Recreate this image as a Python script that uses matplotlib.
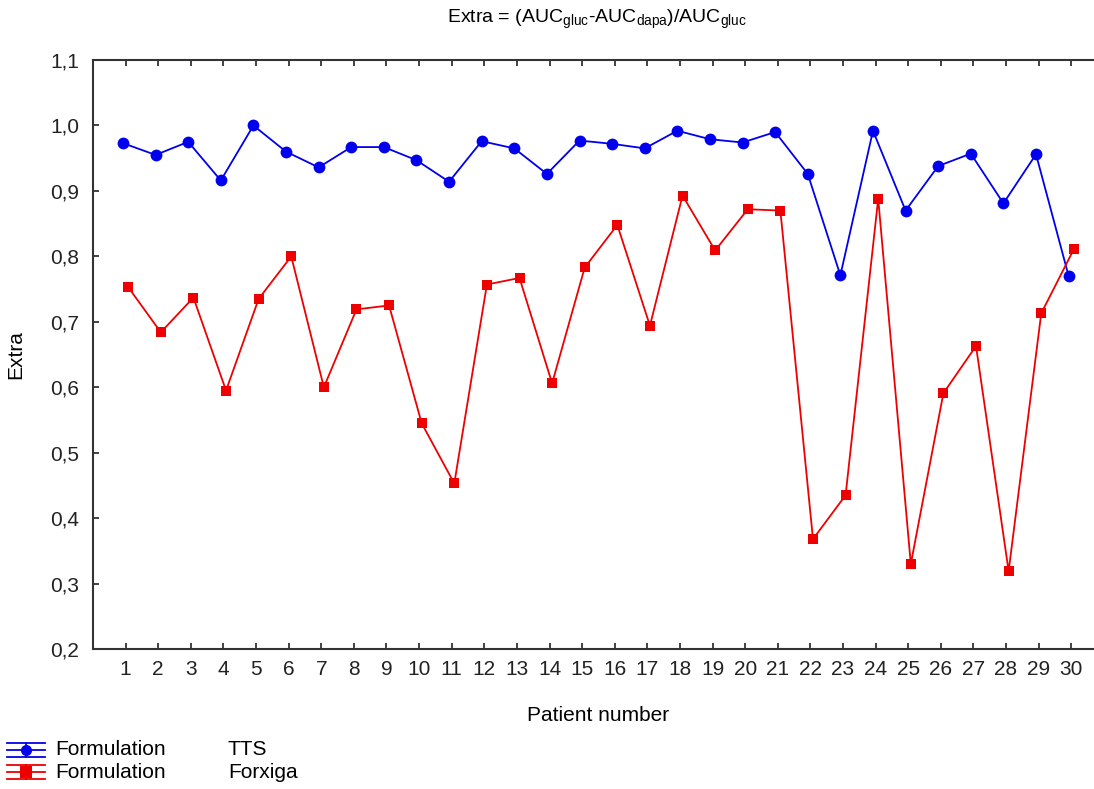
import matplotlib

matplotlib.use("Agg")
import matplotlib.pyplot as plt
import numpy as np
from matplotlib.lines import Line2D
from matplotlib.ticker import FuncFormatter, MultipleLocator

plt.rcParams["font.family"] = ["Liberation Sans", "DejaVu Sans"]
plt.rcParams["mathtext.fontset"] = "custom"
plt.rcParams["mathtext.rm"] = "Liberation Sans"

patients = np.arange(1, 31)

# Extra = (AUC_gluc - AUC_dapa) / AUC_gluc
tts = [0.973, 0.955, 0.975, 0.916, 1.000, 0.960, 0.936, 0.967, 0.967, 0.947,
       0.914, 0.976, 0.965, 0.926, 0.977, 0.972, 0.965, 0.992, 0.979, 0.974,
       0.990, 0.926, 0.771, 0.992, 0.870, 0.938, 0.957, 0.881, 0.956, 0.770]
forxiga = [0.753, 0.684, 0.737, 0.595, 0.735, 0.800, 0.600, 0.719, 0.725, 0.545,
           0.453, 0.757, 0.767, 0.606, 0.783, 0.848, 0.694, 0.893, 0.809, 0.872,
           0.870, 0.368, 0.435, 0.888, 0.330, 0.591, 0.663, 0.319, 0.713, 0.811]

BLUE = "#0000ee"
RED = "#ee0000"

fig = plt.figure(figsize=(10.94, 7.89), dpi=100)
ax = fig.add_axes([0.085, 0.1774, 0.924, 0.7465])

ax.plot(patients - 0.08, tts, color=BLUE, lw=1.3, marker="o", ms=8.5,
        markeredgewidth=0, zorder=3)
ax.plot(patients + 0.08, forxiga, color=RED, lw=1.3, marker="s", ms=7.8,
        markeredgewidth=0, zorder=3)

ax.set_xlim(0, 31)
ax.set_ylim(0.2, 1.1)
ax.set_xticks(patients)
ax.yaxis.set_major_locator(MultipleLocator(0.1))
ax.yaxis.set_major_formatter(FuncFormatter(lambda v, _: f"{v:.1f}".replace(".", ",")))
ax.tick_params(direction="in", length=4, width=1.2, top=True, right=False,
               labelsize=15, colors="#222222", pad=8)
ax.tick_params(axis="y", pad=10)
for side in ("left", "bottom", "top"):
    ax.spines[side].set_linewidth(1.5)
    ax.spines[side].set_color("#333333")
ax.spines["right"].set_visible(False)

ax.set_xlabel("Patient number", fontsize=15, labelpad=19)
ax.set_ylabel("Extra", fontsize=15, labelpad=18)

fig.text(0.546, 0.975,
         r"Extra = (AUC$_{\mathrm{gluc}}$-AUC$_{\mathrm{dapa}}$)/AUC$_{\mathrm{gluc}}$",
         ha="center", va="center", fontsize=14)

# Statistica-style legend at the bottom left
legend_rows = [("Formulation", "TTS", BLUE, "o", 0.0495),
               ("Formulation", "Forxiga", RED, "s", 0.0215)]
for name, level, color, marker, y in legend_rows:
    x0, x1 = 7 / 1094, 45 / 1094
    dy = 7 / 789
    xm = (x0 + x1) / 2
    for yy in (y - dy, y, y + dy):
        fig.add_artist(Line2D([x0, x1], [yy, yy], color=color, lw=1.3,
                              transform=fig.transFigure))
    fig.add_artist(Line2D([xm, xm], [y - dy, y + dy], color=color, lw=1.3,
                          transform=fig.transFigure))
    fig.add_artist(Line2D([xm], [y], color=color, marker=marker, ms=8,
                          markeredgewidth=0, transform=fig.transFigure))
    fig.text(55 / 1094, y, name, ha="left", va="center", fontsize=15)
    fig.text(228 / 1094, y, level, ha="left", va="center", fontsize=15)

fig.savefig("out.png", dpi=100, facecolor="white")
